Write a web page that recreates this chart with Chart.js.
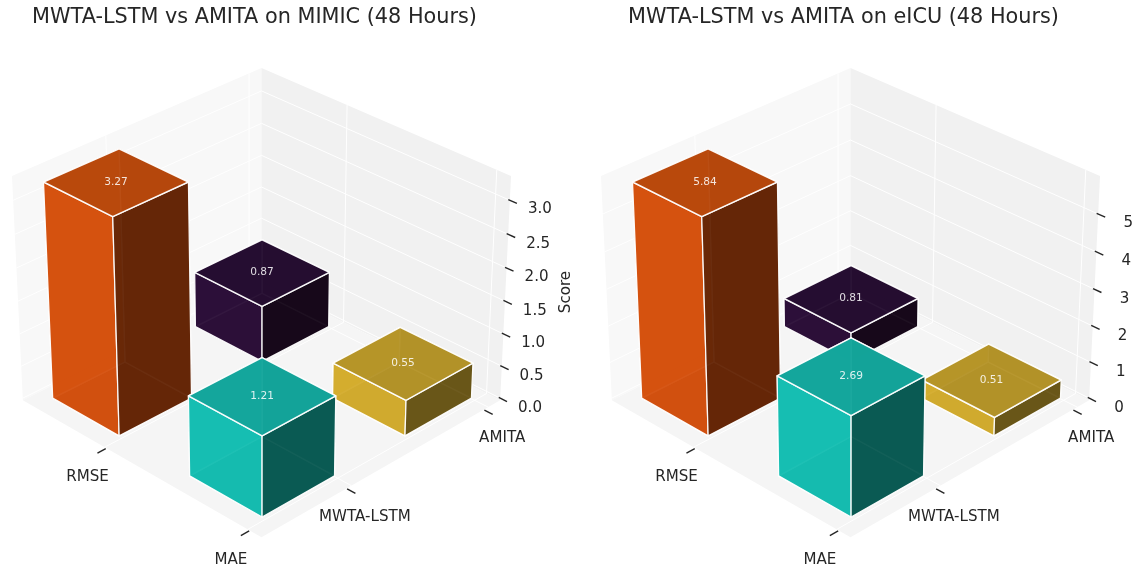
<!DOCTYPE html>
<html>
<head>
<meta charset="utf-8">
<title>MWTA-LSTM vs AMITA</title>
<script src="https://cdn.jsdelivr.net/npm/chart.js@4/dist/chart.umd.js"></script>
<style>
  html, body { margin: 0; padding: 0; background: #fff; }
  canvas { position: absolute; top: 0; }
  #mimicChart { left: 0; }
  #eicuChart { left: 589px; }
</style>
</head>
<body>
<canvas id="mimicChart" width="589" height="569"></canvas>
<canvas id="eicuChart" width="548" height="569"></canvas>
<script>
const metrics = ["RMSE", "MAE"];
const models = ["MWTA-LSTM", "AMITA"];
const mimicMwta = [3.27, 1.21];
const mimicAmita = [0.87, 0.55];
const eicuMwta = [5.84, 2.69];
const eicuAmita = [0.81, 0.51];
const mimicTicks = ["0.0", "0.5", "1.0", "1.5", "2.0", "2.5", "3.0"];
const eicuTicks = ["0", "1", "2", "3", "4", "5"];

// front face, top face, shaded face
const orange = ["rgba(213,82,16,0.97)", "rgba(184,72,12,0.97)", "rgba(101,38,7,0.97)"];
const purple = ["rgba(44,16,57,0.97)", "rgba(37,13,49,0.97)", "rgba(23,8,26,0.97)"];
const teal = ["rgba(22,190,178,0.97)", "rgba(20,165,155,0.97)", "rgba(10,90,83,0.97)"];
const gold = ["rgba(212,172,46,0.97)", "rgba(181,148,40,0.97)", "rgba(105,86,24,0.97)"];

const TEXT = "#262626";
const FONT = "'DejaVu Sans', sans-serif";

// same camera as a matplotlib 3d axes: elev 30, azim -45, dist 10
const box = [1.1905, 1.1905, 0.8929];
const dist = 10;
const xLim = [-0.612, 1.091];
const yLim = [-0.612, 1.091];
const barWidth = 0.496;
const barStartX = -0.521, barStartY = -0.492;
const tickShiftX = 0.014, tickShiftY = -0.035;
const zHeadroom = 1.035;
const zGridShift = 0.01;
const SCALE = 2898, CX = 261.5, CY = 290.7;
const BOX_W = 509, HEIGHT = 569;
const TITLE_SIZE = 20.8, TITLE_PAD = 5.5;
const TITLE_H = TITLE_SIZE * 1.2 + TITLE_PAD;

const w = [Math.SQRT1_2 * Math.cos(Math.PI / 6), -Math.SQRT1_2 * Math.cos(Math.PI / 6), 0.5];
const u = [Math.SQRT1_2, Math.SQRT1_2, 0];
const v = [-0.5 * Math.SQRT1_2, 0.5 * Math.SQRT1_2, Math.cos(Math.PI / 6)];
const dot = (a, b) => a[0] * b[0] + a[1] * b[1] + a[2] * b[2];

function makeProject(zTop) {
  return function (x, y, z) {
    const p = [
      ((x - xLim[0]) / (xLim[1] - xLim[0]) - 0.5) * box[0],
      ((y - yLim[0]) / (yLim[1] - yLim[0]) - 0.5) * box[1],
      (z / zTop - 0.5) * box[2]
    ];
    const depth = dist - dot(w, p);
    return { x: dot(u, p) / depth, y: dot(v, p) / depth };
  };
}

function poly(points, fill, edge) {
  return { poly: true, data: points, backgroundColor: fill, borderColor: "rgba(255,255,255,0.95)", borderWidth: edge || 1.25, showLine: false, pointRadius: 0, clip: false };
}
function line(points, color, width) {
  return { data: points, borderColor: color, borderWidth: width, showLine: true, pointRadius: 0, tension: 0, fill: false, clip: false };
}

function barFaces(P, i, j, h, col) {
  const x0 = i + barStartX, x1 = x0 + barWidth;
  const y0 = j + barStartY, y1 = y0 + barWidth;
  const [front, top, dark] = col;
  return [
    poly([P(x0, y0, 0), P(x1, y0, 0), P(x1, y1, 0), P(x0, y1, 0)], dark),
    poly([P(x0, y1, 0), P(x1, y1, 0), P(x1, y1, h), P(x0, y1, h)], dark),
    poly([P(x0, y0, 0), P(x0, y1, 0), P(x0, y1, h), P(x0, y0, h)], front),
    poly([P(x0, y0, 0), P(x1, y0, 0), P(x1, y0, h), P(x0, y0, h)], front),
    poly([P(x1, y0, 0), P(x1, y1, 0), P(x1, y1, h), P(x1, y0, h)], dark),
    poly([P(x0, y0, h), P(x1, y0, h), P(x1, y1, h), P(x0, y1, h)], top, 1.5)
  ];
}

// fills the faces from the points the scales have placed
const facePlugin = {
  id: "faces",
  beforeDatasetDraw(chart, args) {
    const ds = chart.data.datasets[args.index];
    if (!ds.poly) return;
    const ctx = chart.ctx, pts = args.meta.data;
    ctx.save();
    ctx.beginPath();
    pts.forEach((pt, i) => (i ? ctx.lineTo(pt.x, pt.y) : ctx.moveTo(pt.x, pt.y)));
    ctx.closePath();
    ctx.fillStyle = ds.backgroundColor;
    ctx.fill();
    if (ds.borderWidth) {
      ctx.strokeStyle = ds.borderColor;
      ctx.lineWidth = ds.borderWidth;
      ctx.lineJoin = "round";
      ctx.stroke();
    }
    ctx.restore();
  }
};

function drawChart(id, title, mwta, amita, zLabels, zStep, zTop, zTitle, boxRight) {
  const P = makeProject(zTop);
  const xMin = xLim[0], xMax = xLim[1], yMin = yLim[0], yMax = yLim[1];
  const zVals = zLabels.map((_, i) => i * zStep + zTop * zGridShift);
  const datasets = [];

  datasets.push(poly([P(xMin, yMin, 0), P(xMin, yMax, 0), P(xMin, yMax, zTop), P(xMin, yMin, zTop)], "#f8f8f8"));
  datasets.push(poly([P(xMin, yMax, 0), P(xMax, yMax, 0), P(xMax, yMax, zTop), P(xMin, yMax, zTop)], "#f1f1f1"));
  datasets.push(poly([P(xMin, yMin, 0), P(xMax, yMin, 0), P(xMax, yMax, 0), P(xMin, yMax, 0)], "#f5f5f5"));
  datasets.forEach(ds => { ds.borderWidth = 0; });

  metrics.forEach((_, i) => datasets.push(line([P(i, yMin, 0), P(i, yMax, 0), P(i, yMax, zTop)], "#fff", 1)));
  models.forEach((_, i) => datasets.push(line([P(xMax, i, 0), P(xMin, i, 0), P(xMin, i, zTop)], "#fff", 1)));
  zVals.forEach(z => datasets.push(line([P(xMin, yMin, z), P(xMin, yMax, z), P(xMax, yMax, z)], "#fff", 1)));

  // back to front
  datasets.push(...barFaces(P, 0, 1, amita[0], purple));
  datasets.push(...barFaces(P, 0, 0, mwta[0], orange));
  datasets.push(...barFaces(P, 1, 1, amita[1], gold));
  datasets.push(...barFaces(P, 1, 0, mwta[1], teal));

  const labels = [];
  const tickFont = "15.1px " + FONT;
  const tickWidth = 1.4;
  metrics.forEach((m, i) => {
    const t = i + tickShiftX;
    datasets.push(line([P(t, yMin - 0.005, 0), P(t, yMin - 0.06, 0)], TEXT, tickWidth));
    labels.push({ text: m, at: P(t, yMin - 0.06, 0), dx: -10, dy: 24, font: tickFont, color: TEXT });
  });
  models.forEach((m, i) => {
    const t = i + tickShiftY;
    datasets.push(line([P(xMax + 0.005, t, 0), P(xMax + 0.06, t, 0)], TEXT, tickWidth));
    labels.push({ text: m, at: P(xMax + 0.06, t, 0), dx: 9.5, dy: 24, font: tickFont, color: TEXT });
  });
  zLabels.forEach((t, i) => {
    const z = zVals[i];
    datasets.push(line([P(xMax - 0.01, yMax, z), P(xMax + 0.045, yMax, z)], TEXT, tickWidth));
    labels.push({ text: t, at: P(xMax + 0.045, yMax, z), dx: 23, dy: 6.2, font: tickFont, color: TEXT });
  });

  const valueFont = "10.6px " + FONT;
  const midX = barStartX + barWidth / 2, midY = barStartY + barWidth / 2;
  metrics.forEach((_, i) => {
    labels.push({ text: mwta[i].toFixed(2), at: P(i + midX, midY, mwta[i]), dx: 0, dy: 0, font: valueFont, color: "rgba(255,255,255,0.85)" });
    labels.push({ text: amita[i].toFixed(2), at: P(i + midX, 1 + midY, amita[i]), dx: 0, dy: 0, font: valueFont, color: "rgba(255,255,255,0.85)" });
  });

  const textPlugin = {
    id: "labels3d",
    afterDraw(chart) {
      const ctx = chart.ctx, sx = chart.scales.x, sy = chart.scales.y;
      ctx.save();
      ctx.textAlign = "center";
      ctx.textBaseline = "middle";
      labels.forEach(l => {
        ctx.font = l.font;
        ctx.fillStyle = l.color;
        ctx.fillText(l.text, sx.getPixelForValue(l.at.x) + l.dx, sy.getPixelForValue(l.at.y) + l.dy);
      });
      if (zTitle) {
        ctx.translate(566, 292);
        ctx.rotate(-Math.PI / 2);
        ctx.font = tickFont;
        ctx.fillStyle = TEXT;
        ctx.fillText(zTitle, 0, 0);
      }
      ctx.restore();
    }
  };

  datasets.forEach((ds, i) => { ds.order = -i; });

  new Chart(document.getElementById(id).getContext("2d"), {
    type: "scatter",
    data: { datasets },
    options: {
      responsive: false,
      animation: false,
      events: [],
      layout: { padding: { right: boxRight } },
      plugins: {
        legend: { display: false },
        tooltip: { enabled: false },
        title: {
          display: true,
          text: title,
          color: TEXT,
          font: { family: FONT, size: TITLE_SIZE, weight: "normal", lineHeight: 1.2 },
          padding: { top: TITLE_PAD, bottom: 0 }
        }
      },
      scales: {
        x: { type: "linear", display: false, min: -CX / SCALE, max: (BOX_W - CX) / SCALE },
        y: { type: "linear", display: false, min: (CY - HEIGHT) / SCALE, max: (CY - TITLE_H) / SCALE }
      }
    },
    plugins: [facePlugin, textPlugin]
  });
}

drawChart("mimicChart", "MWTA-LSTM vs AMITA on MIMIC (48 Hours)", mimicMwta, mimicAmita, mimicTicks, 0.5, 3.27 * zHeadroom, "Score", 80);
drawChart("eicuChart", "MWTA-LSTM vs AMITA on eICU (48 Hours)", eicuMwta, eicuAmita, eicuTicks, 1, 5.84 * zHeadroom, "", 39);
</script>
</body>
</html>
